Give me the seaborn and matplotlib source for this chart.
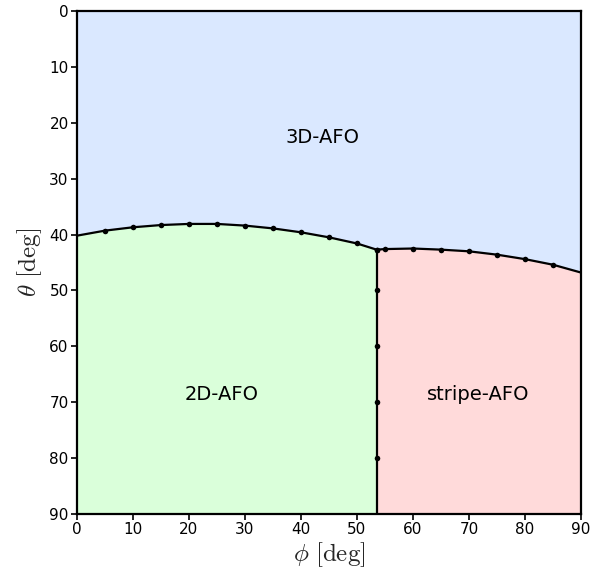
import numpy as np
import pandas as pd
import matplotlib
matplotlib.use("Agg")
import matplotlib.pyplot as plt
import seaborn as sns

# Boundary between 3D-AFO and the lower phases (phi [deg], theta [deg])
phi_upper = [0, 5, 10, 15, 20, 25, 30, 35, 40, 45, 50, 53.5,
             55, 60, 65, 70, 75, 80, 85, 90]
theta_upper = [40.2, 39.3, 38.7, 38.3, 38.1, 38.1, 38.4, 38.9, 39.6, 40.5, 41.6, 42.7,
               42.6, 42.5, 42.7, 43.0, 43.6, 44.4, 45.4, 46.8]
marker_upper = [False] + [True] * 18 + [False]

# Boundary between 2D-AFO and stripe-AFO
phi_vert = [53.5, 53.5, 53.5, 53.5, 53.5, 53.5]
theta_vert = [42.7, 50, 60, 70, 80, 90]
marker_vert = [True, True, True, True, True, False]

phase_labels = ["3D-AFO", "2D-AFO", "stripe-AFO"]
label_phi = [43.9, 25.8, 71.6]
label_theta = [22.6, 68.7, 68.7]

col_3d = "#DAE8FF"
col_2d = "#DAFFDA"
col_stripe = "#FFDADA"

sns.set_style("white")
plt.rcParams["mathtext.fontset"] = "cm"
plt.rcParams["font.family"] = ["DejaVu Sans"]

fig = plt.figure(figsize=(6.09, 5.79), dpi=100)
ax = fig.add_axes([0.1264, 0.1123, 0.8276, 0.8687])

pu = np.array(phi_upper)
tu = np.array(theta_upper)
phi_c = phi_vert[0]

ax.fill_between(pu, 0, tu, color=col_3d, lw=0, zorder=0)
m2 = pu <= phi_c
ax.fill_between(pu[m2], tu[m2], 90, color=col_2d, lw=0, zorder=0)
ms = pu >= phi_c
ax.fill_between(pu[ms], tu[ms], 90, color=col_stripe, lw=0, zorder=0)

df_u = pd.DataFrame({"phi": phi_upper, "theta": theta_upper})
df_v = pd.DataFrame({"phi": phi_vert, "theta": theta_vert})
sns.lineplot(data=df_u, x="phi", y="theta", sort=False, color="black", lw=1.6, ax=ax, zorder=3)
sns.lineplot(data=df_v, x="phi", y="theta", sort=False, color="black", lw=1.6, ax=ax, zorder=3,
             estimator=None)
sns.scatterplot(data=df_u[marker_upper], x="phi", y="theta", color="black", s=16, ax=ax,
                zorder=4, linewidth=0)
sns.scatterplot(data=df_v[marker_vert], x="phi", y="theta", color="black", s=16, ax=ax,
                zorder=4, linewidth=0)

for lab, x, y in zip(phase_labels, label_phi, label_theta):
    ax.text(x, y, lab, ha="center", va="center", fontsize=14, color="black")

ax.set_xlim(0, 90)
ax.set_ylim(90, 0)
ax.set_xticks(range(0, 91, 10))
ax.set_yticks(range(0, 91, 10))
ax.tick_params(axis="both", which="both", direction="out", length=4, width=1.2,
               labelsize=11, bottom=True, left=True, colors="black", pad=2)
for s in ax.spines.values():
    s.set_visible(True)
    s.set_color("black")
    s.set_linewidth(1.6)

ax.set_xlabel(r"$\phi\ [\mathrm{deg}]$", fontsize=18, labelpad=2)
ax.set_ylabel(r"$\theta\ [\mathrm{deg}]$", fontsize=18, labelpad=4)

fig.savefig("out.png", dpi=100)
